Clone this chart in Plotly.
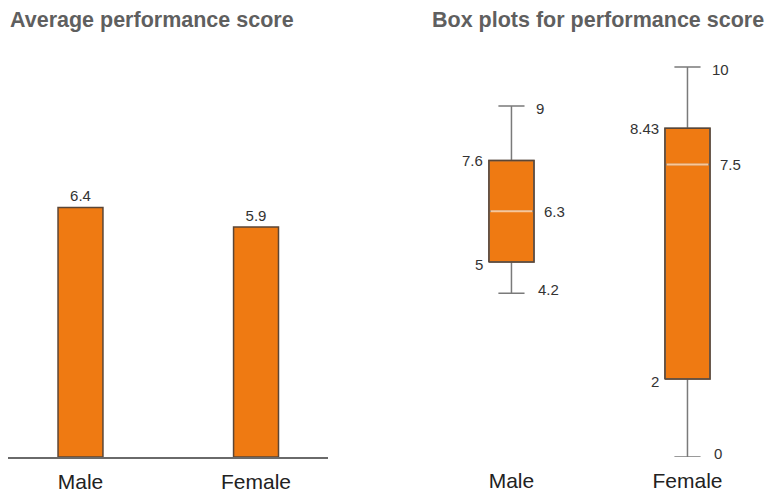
import plotly.graph_objects as go

# Data
categories = ["Male", "Female"]
avg_scores = [6.4, 5.9]

box_min = [4.2, 0]
box_q1 = [5, 2]
box_median = [6.3, 7.5]
box_q3 = [7.6, 8.43]
box_max = [9, 10]

W, H = 770, 494
ORANGE = "#EF7A12"
OUTLINE = "#5b4636"
WHISKER = "#7a7a7a"
MEDIAN = "#F8C79A"
TEXT = "#333333"
TITLE = "#5f5f5f"
FONT = "Liberation Sans, Arial, sans-serif"


def px_x(p):
    return p / W


def px_y(p):
    return 1 - p / H


positions = list(range(len(categories)))
half_w = 0.128  # half box / bar width in axis units

fig = go.Figure()

# Left: average score bars
fig.add_trace(go.Bar(
    x=positions, y=avg_scores, width=2 * half_w,
    marker=dict(color=ORANGE, line=dict(color=OUTLINE, width=1.5)),
    text=[f"{v:g}" for v in avg_scores], textposition="outside",
    textfont=dict(size=15, color=TEXT, family=FONT),
    cliponaxis=False, hoverinfo="skip",
    xaxis="x", yaxis="y",
))

# Right: box plots from precomputed statistics
fig.add_trace(go.Box(
    x=positions, q1=box_q1, median=box_median, q3=box_q3,
    lowerfence=box_min, upperfence=box_max,
    width=2 * half_w, whiskerwidth=0.58,
    fillcolor=ORANGE, line=dict(color=WHISKER, width=1.5),
    boxpoints=False, hoverinfo="skip",
    xaxis="x2", yaxis="y2",
))

# Box outlines and median lines drawn over the box bodies
for i, p in enumerate(positions):
    fig.add_trace(go.Scatter(
        x=[p - half_w, p + half_w, p + half_w, p - half_w, p - half_w],
        y=[box_q1[i], box_q1[i], box_q3[i], box_q3[i], box_q1[i]],
        mode="lines", line=dict(color=OUTLINE, width=1.5),
        hoverinfo="skip", xaxis="x2", yaxis="y2",
    ))
    fig.add_trace(go.Scatter(
        x=[p - half_w + 0.01, p + half_w - 0.01],
        y=[box_median[i], box_median[i]],
        mode="lines", line=dict(color=MEDIAN, width=2),
        hoverinfo="skip", xaxis="x2", yaxis="y2",
    ))

annotations = []
lab_font = dict(size=15, color=TEXT, family=FONT)
for i, p in enumerate(positions):
    for val, side, dx, dy in [
        (box_max[i], "right", 0, -3),
        (box_median[i], "right", 8, 0),
        (box_min[i], "right", 2, 4),
        (box_q3[i], "left", -4, 0),
        (box_q1[i], "left", -4, -2),
    ]:
        if side == "right":
            annotations.append(dict(
                x=p + half_w, y=val, xref="x2", yref="y2",
                text=f"{val:g}", showarrow=False, xanchor="left",
                yanchor="middle", xshift=dx, yshift=dy, font=lab_font,
            ))
        else:
            annotations.append(dict(
                x=p - half_w, y=val, xref="x2", yref="y2",
                text=f"{val:g}", showarrow=False, xanchor="right",
                yanchor="middle", xshift=dx, yshift=dy, font=lab_font,
            ))

# Panel titles
title_font = dict(size=21.5, color=TITLE, family=FONT, weight="bold")
annotations.append(dict(
    x=px_x(8), y=px_y(20), xref="paper", yref="paper",
    text="Average performance score", showarrow=False,
    xanchor="left", yanchor="middle", font=title_font,
))
annotations.append(dict(
    x=px_x(430), y=px_y(20), xref="paper", yref="paper",
    text="Box plots for performance score", showarrow=False,
    xanchor="left", yanchor="middle", font=title_font,
))

y_top = (457 - 50) / 39.0
y_dom = [px_y(457), px_y(50)]
tick_font = dict(size=21, color="#222222", family=FONT)

fig.update_layout(
    width=W, height=H,
    margin=dict(l=0, r=0, t=0, b=0),
    paper_bgcolor="white", plot_bgcolor="white",
    showlegend=False,
    annotations=annotations,
    xaxis=dict(
        domain=[px_x(8), px_x(328)], range=[-0.413, 1.41],
        tickvals=positions, ticktext=categories, tickfont=tick_font,
        showline=True, linecolor="#6a6a6a", linewidth=2,
        showgrid=False, zeroline=False, ticks="", ticklabelstandoff=5,
        fixedrange=True,
    ),
    yaxis=dict(
        domain=y_dom, range=[0, y_top], visible=False, fixedrange=True,
    ),
    xaxis2=dict(
        domain=[px_x(440), px_x(760)], range=[-0.406, 1.412],
        tickvals=positions, ticktext=categories, tickfont=tick_font,
        showline=False, showgrid=False, zeroline=False, ticks="",
        ticklabelstandoff=9, anchor="y2", fixedrange=True,
    ),
    yaxis2=dict(
        domain=y_dom, range=[0, y_top], visible=False, anchor="x2",
        fixedrange=True,
    ),
)

fig.write_html("out.html")
